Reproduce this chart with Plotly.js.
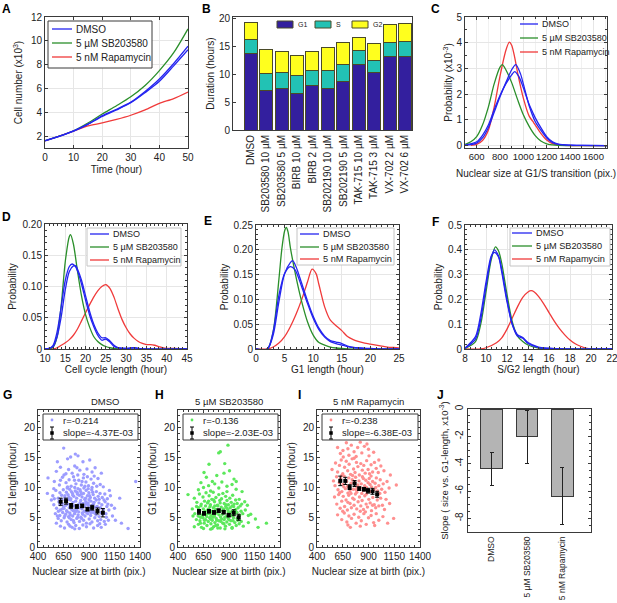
<!DOCTYPE html>
<html>
<head>
<meta charset="utf-8">
<script src="https://cdn.plot.ly/plotly-3.0.1.min.js"></script>
<style>
body { margin: 0; background: #fff; }
#chart { width: 617px; height: 603px; }
</style>
</head>
<body>
<div id="chart"></div>
<script>
var W = 617, H = 603
var font = "Liberation Sans, Arial, sans-serif"
var blue = "#2424f0", green = "#2a8f2a", red = "#f03a3a"
var treatNames = ["DMSO", "5 \u00b5M SB203580", "5 nM Rapamycin"]
var treatCols = [blue, green, red]

// A - cell number (x10^3) over time
var timeA = [0, 5, 10, 15, 20, 25, 30, 35, 40, 45, 50]
var growthDmso1 = [1.62, 2.0, 2.44, 3.0, 3.72, 4.25, 4.85, 5.75, 6.8, 8.1, 9.55]
var growthDmso2 = [1.6, 1.98, 2.42, 2.98, 3.65, 4.2, 4.8, 5.65, 6.6, 7.9, 9.25]
var growthSb = [1.62, 2.0, 2.45, 3.1, 3.85, 4.55, 5.3, 6.25, 7.5, 9.0, 11.0]
var growthRapa = [1.6, 2.0, 2.42, 2.85, 3.1, 3.4, 3.75, 4.2, 4.75, 5.15, 5.7]

// B - phase durations (hours)
var drugs = ["DMSO", "SB203580 10 \u00b5M", "SB203580 5 \u00b5M", "BIRB 10 \u00b5M", "BIRB 2 \u00b5M",
  "SB202190 10 \u00b5M", "SB202190 5 \u00b5M", "TAK-715 10 \u00b5M", "TAK-715 3 \u00b5M", "VX-702 2 \u00b5M", "VX-702 6 \u00b5M"]
var g1Dur = [13.7, 7.1, 7.5, 6.6, 8.0, 7.5, 8.7, 11.7, 10.3, 13.2, 13.1]
var sDur = [2.4, 3.0, 2.8, 3.1, 2.7, 3.1, 3.0, 2.5, 2.1, 2.5, 2.7]
var g2Dur = [3.1, 4.3, 3.7, 3.7, 3.3, 4.1, 3.9, 2.4, 3.0, 3.2, 3.3]
var phaseNames = ["G1", "S", "G2"]

// C - nuclear size at G1/S (probability x10^-3)
var cDmso1X = [500, 600, 650, 700, 750, 800, 850, 900, 935, 975, 1000, 1050, 1100, 1150, 1200, 1250, 1300, 1400, 1500, 1720]
var cDmso1Y = [0.01, 0.1, 0.3, 0.7, 1.3, 1.9, 2.45, 2.95, 3.15, 2.8, 2.4, 1.55, 0.95, 0.6, 0.3, 0.12, 0.05, 0.02, 0.01, 0]
var cDmso2X = [500, 600, 650, 700, 750, 800, 850, 900, 925, 960, 1000, 1050, 1080, 1100, 1150, 1200, 1250, 1300, 1400, 1500, 1720]
var cDmso2Y = [0.02, 0.15, 0.4, 0.8, 1.4, 1.95, 2.4, 2.75, 2.88, 2.7, 2.25, 1.6, 1.3, 1.1, 0.7, 0.35, 0.15, 0.06, 0.02, 0.01, 0]
var cSbX = [500, 550, 600, 650, 700, 750, 800, 820, 850, 900, 950, 1000, 1050, 1100, 1150, 1200, 1250, 1300, 1720]
var cSbY = [0.05, 0.15, 0.35, 0.8, 1.5, 2.4, 3.05, 3.15, 2.95, 2.45, 1.8, 1.2, 0.75, 0.4, 0.18, 0.07, 0.03, 0.01, 0]
var cRapaX = [550, 600, 650, 700, 750, 800, 850, 880, 900, 925, 950, 1000, 1050, 1080, 1100, 1150, 1200, 1250, 1300, 1350, 1720]
var cRapaY = [0.01, 0.05, 0.2, 0.6, 1.5, 2.7, 3.7, 4.02, 3.9, 3.45, 2.85, 1.85, 1.15, 0.95, 0.82, 0.48, 0.22, 0.08, 0.03, 0.01, 0]

// D - cell cycle length
var dDmso1X = [10, 11, 12, 13, 14, 15, 16, 16.7, 17.5, 18, 19, 20, 21, 22, 23, 24, 25, 26, 27, 28, 30, 32, 33, 35, 45]
var dDmso1Y = [0, 0.001, 0.006, 0.028, 0.068, 0.11, 0.132, 0.136, 0.132, 0.125, 0.104, 0.078, 0.054, 0.036, 0.022, 0.014, 0.016, 0.011, 0.004, 0.002, 0.001, 0.002, 0.001, 0, 0]
var dDmso2X = [10, 11, 12, 13, 14, 15, 16, 17, 17.6, 18, 19, 20, 21, 22, 23, 24, 25, 26, 27, 28, 30, 32, 34, 45]
var dDmso2Y = [0, 0.001, 0.004, 0.02, 0.052, 0.095, 0.124, 0.133, 0.133, 0.128, 0.11, 0.085, 0.06, 0.04, 0.026, 0.018, 0.018, 0.013, 0.006, 0.002, 0.001, 0.002, 0, 0]
var dSbX = [10, 11, 12, 13, 14, 15, 16, 16.3, 17, 18, 19, 20, 21, 22, 23, 24, 25, 26, 28, 45]
var dSbY = [0, 0, 0.003, 0.02, 0.07, 0.14, 0.18, 0.183, 0.168, 0.125, 0.085, 0.055, 0.035, 0.02, 0.012, 0.007, 0.004, 0.002, 0, 0]
var dRapaX = [10, 12, 13, 14, 15, 16, 17, 18, 19, 20, 21, 22, 23, 24, 25, 26, 27, 28, 29, 30, 31, 32, 33, 34, 35, 36, 37, 38, 39, 40, 42, 45]
var dRapaY = [0, 0, 0.002, 0.006, 0.01, 0.015, 0.022, 0.032, 0.045, 0.058, 0.071, 0.083, 0.093, 0.1, 0.103, 0.097, 0.083, 0.064, 0.047, 0.034, 0.024, 0.017, 0.012, 0.009, 0.007, 0.007, 0.006, 0.004, 0.002, 0.001, 0.001, 0]

// E - G1 length
var eDmso1X = [0, 2, 3, 4, 5, 6, 6.4, 7, 8, 9, 10, 11, 12, 13, 14, 15, 16, 17, 18, 20, 22, 25]
var eDmso1Y = [0, 0, 0.028, 0.095, 0.152, 0.174, 0.178, 0.166, 0.132, 0.097, 0.066, 0.042, 0.026, 0.017, 0.014, 0.011, 0.006, 0.003, 0.002, 0.001, 0, 0]
var eDmso2X = [0, 2, 3, 4, 5, 6, 6.8, 8, 9, 10, 11, 12, 13, 14, 15, 16, 18, 20, 25]
var eDmso2Y = [0, 0, 0.035, 0.108, 0.152, 0.166, 0.16, 0.125, 0.092, 0.062, 0.039, 0.024, 0.015, 0.011, 0.008, 0.005, 0.002, 0, 0]
var eSbX = [0, 2, 3, 4, 4.5, 5, 5.3, 5.6, 6, 7, 8, 9, 10, 11, 12, 13, 14, 16, 25]
var eSbY = [0, 0, 0.035, 0.14, 0.2, 0.238, 0.245, 0.236, 0.205, 0.145, 0.095, 0.055, 0.028, 0.013, 0.008, 0.004, 0.002, 0, 0]
var eRapaX = [0, 2, 3, 4, 5, 6, 7, 8, 9, 9.8, 10.5, 11, 12, 13, 14, 15, 16, 17, 18, 19, 20, 21, 22, 23, 24, 25]
var eRapaY = [0, 0, 0.004, 0.012, 0.025, 0.045, 0.07, 0.1, 0.135, 0.161, 0.152, 0.13, 0.085, 0.058, 0.047, 0.037, 0.025, 0.019, 0.015, 0.012, 0.01, 0.008, 0.006, 0.004, 0.003, 0.002]

// F - S/G2 length
var fDmsoX = [8, 9, 9.5, 10, 10.5, 10.8, 11.2, 11.5, 12, 12.5, 13, 13.5, 14, 15, 16, 17, 22]
var fDmso1Y = [0.003, 0.04, 0.12, 0.25, 0.37, 0.4, 0.375, 0.32, 0.2, 0.1, 0.052, 0.044, 0.022, 0.006, 0.002, 0, 0]
var fDmso2Y = [0.004, 0.05, 0.14, 0.27, 0.375, 0.39, 0.37, 0.31, 0.19, 0.1, 0.058, 0.046, 0.026, 0.008, 0.003, 0, 0]
var fSbX = [8, 9, 9.5, 10, 10.5, 10.9, 11.2, 11.5, 12, 12.5, 13, 13.5, 14, 15, 16, 17, 22]
var fSbY = [0.002, 0.03, 0.1, 0.23, 0.36, 0.412, 0.395, 0.345, 0.22, 0.11, 0.052, 0.03, 0.016, 0.004, 0.001, 0, 0]
var fRapaX = [8, 9.5, 10, 11, 11.5, 12, 12.5, 13, 13.5, 14, 14.3, 14.6, 15, 15.5, 16, 16.5, 17, 17.5, 18, 18.5, 19, 19.5, 20, 22]
var fRapaY = [0, 0, 0.005, 0.025, 0.045, 0.08, 0.125, 0.17, 0.208, 0.23, 0.235, 0.23, 0.212, 0.182, 0.147, 0.112, 0.082, 0.057, 0.036, 0.021, 0.011, 0.004, 0, 0]

// G/H/I - nuclear size at birth vs G1 length, [size, hours]
var dmsoPts = [[652,16.6],[766,15.6],[720,15.1],[792,15.3],[690,14.8],[590,14.3],[841,14.3],[907,14.6],
  [620,13.4],[700,13.0],[735,12.4],[760,13.6],[810,12.9],[850,12.2],[880,13.1],[930,12.6],[1021,12.4],[655,12.1],[580,12.7],[790,12.1],[960,13.3],
  [498,11.6],[560,11.0],[610,10.4],[640,11.7],[675,10.8],[705,11.3],[725,10.2],[748,11.8],[772,10.6],[800,11.2],[825,10.4],[845,11.6],[870,10.9],[895,10.3],[920,11.4],[945,10.7],[988,11.5],[1010,10.5],[1040,10.1],[1358,11.0],[690,10.1],[760,10.0],[860,10.2],[620,11.2],[930,10.0],
  [492,9.0],[545,8.6],[575,9.5],[598,8.2],[615,9.1],[632,8.7],[648,9.6],[662,8.3],[678,9.2],[694,8.8],[710,9.7],[722,8.1],[738,9.0],[751,8.5],[765,9.4],[779,8.2],[792,9.8],[805,8.7],[818,9.3],[832,8.4],[846,9.0],[858,8.0],[872,9.5],[885,8.6],[899,9.1],[913,8.3],[927,9.6],[941,8.8],[956,8.2],[972,9.3],[990,8.5],[1008,9.0],[1030,8.3],[1055,8.9],[1080,8.1],[1201,8.2],[1110,8.6],[560,8.1],[700,8.0],[850,9.9],
  [531,7.9],[555,7.1],[582,6.5],[605,7.6],[620,6.2],[638,7.3],[650,6.8],[666,7.8],[680,6.1],[693,7.2],[707,6.6],[719,7.9],[731,6.3],[744,7.5],[756,6.9],[769,7.7],[781,6.2],[794,7.1],[806,6.6],[819,7.8],[831,6.4],[843,7.3],[856,6.8],[868,7.6],[881,6.1],[894,7.0],[906,6.5],[919,7.7],[932,6.3],[945,7.2],[958,6.7],[971,7.9],[984,6.0],[998,7.4],[1012,6.6],[1026,7.1],[1040,6.3],[1058,7.6],[1075,6.8],[1095,6.2],[1120,7.0],[1150,6.5],[600,6.0],[760,6.0],[900,7.95],
  [580,4.0],[570,5.6],[598,4.8],[614,5.3],[628,4.4],[642,5.8],[656,4.9],[671,5.5],[685,4.2],[699,5.1],[712,5.7],[726,4.6],[740,5.2],[753,4.1],[767,5.9],[780,4.8],[793,5.4],[807,4.3],[820,5.0],[834,5.7],[847,4.5],[861,5.2],[874,4.0],[888,5.6],[902,4.7],[916,5.3],[929,4.2],[943,5.8],[957,4.9],[970,5.4],[985,4.4],[1000,5.1],[1015,4.6],[1032,5.5],[1050,4.3],[1070,5.0],[1090,4.5],[1159,4.5],[1218,4.0],[1130,5.2],
  [620,3.5],[660,3.2],[700,3.8],[735,3.3],[770,3.6],[805,3.1],[840,3.7],[875,3.4],[910,3.9],[945,3.2],[985,3.6],[1020,3.3],[1060,3.8],[1283,3.1],[760,3.05],
  [655,6.5],[672,7.0],[688,5.9],[703,8.4],[716,5.4],[729,7.0],[742,8.7],[758,5.6],[771,6.4],[786,8.9],[799,5.9],[812,7.4],[826,8.9],[839,5.5],[853,6.0],[866,8.2],[879,5.8],[892,7.4],[905,8.6],[918,5.8],[931,7.0],[944,6.0],[727,9.3],[812,9.6],[892,9.8],[686,9.9],[640,6.4],[662,5.2],[706,4.9],[748,4.4],[788,5.0],[826,4.8],[868,5.9],[910,6.0],[950,7.5],[980,6.8],[1000,8.0],[1020,5.8],[664,8.6],[744,6.1],[783,9.2],[874,7.2],[962,5.6],[630,8.0],[615,7.1],[936,9.2],[1047,7.9],[1066,5.6],[976,10.2],[832,11.0],[758,11.2],[674,12.3],[884,11.8],[951,11.9],[782,13.3],[1100,9.5],[1085,7.2],[555,9.8],[590,5.2],[1005,3.9],[715,3.5]]
var sbPts = [[890,17.1],[799,15.8],[815,16.0],[704,13.9],[858,14.0],[655,12.5],[851,12.4],[678,11.7],[949,11.4],[971,11.0],[737,11.0],[780,12.0],[905,12.8],[625,10.8],[700,10.3],[760,10.6],[830,10.9],[880,10.2],[930,10.5],[1028,9.3],[498,8.8],[600,9.6],[650,10.0],[800,9.9],[970,9.7],
  [560,8.2],[585,7.5],[610,8.9],[628,7.2],[645,8.4],[660,7.7],[675,9.1],[690,7.4],[705,8.6],[718,7.1],[732,8.0],[745,9.2],[758,7.6],[772,8.3],[786,7.0],[800,8.8],[813,7.4],[827,8.1],[840,9.0],[853,7.3],[867,8.5],[880,7.8],[894,7.1],[908,8.2],[922,7.5],[936,8.7],[950,7.2],[965,7.9],[980,7.3],[1000,8.0],[1054,7.6],[1080,7.0],[1025,7.2],[720,9.4],[880,9.3],
  [540,6.4],[565,5.6],[582,6.8],[598,5.2],[612,6.1],[624,6.9],[636,5.4],[648,6.4],[659,5.8],[670,6.9],[681,5.1],[692,6.2],[703,5.6],[714,6.8],[725,5.3],[736,6.0],[747,6.6],[758,5.2],[769,6.3],[780,5.7],[791,6.9],[802,5.4],[813,6.1],[824,6.7],[835,5.5],[846,6.4],[857,5.9],[868,6.8],[879,5.2],[890,6.2],[901,5.6],[912,6.6],[923,5.3],[934,6.0],[945,6.8],[956,5.5],[967,6.3],[978,5.8],[990,6.6],[1003,5.3],[1018,6.0],[1035,5.6],[1113,5.5],[1060,6.2],[1090,5.3],[547,5.2],[665,6.0],[742,5.0],[818,5.05],[895,5.9],
  [580,4.6],[600,3.8],[615,4.4],[630,3.3],[644,4.9],[657,4.0],[671,4.6],[684,3.6],[697,4.3],[710,4.9],[723,3.9],[736,4.5],[749,3.4],[762,4.1],[775,4.8],[788,3.7],[801,4.4],[814,3.2],[827,4.7],[840,4.0],[853,4.6],[866,3.5],[879,4.2],[892,4.8],[905,3.8],[918,4.4],[931,3.3],[944,4.9],[957,4.1],[971,3.6],[985,4.5],[1000,3.9],[1020,4.3],[1040,3.5],[1159,4.7],[1185,3.3],[1267,4.0],[1090,4.1],[560,3.4],[620,5.0],
  [650,3.1],[720,3.0],[790,3.2],[860,3.05],[930,3.15],
  [680,5.5],[700,6.4],[720,4.7],[740,5.8],[760,6.9],[780,4.5],[800,5.9],[820,4.3],[840,6.1],[860,5.0],[880,6.5],[900,4.6],[920,5.9],[940,4.4],[960,6.1],[980,4.8],[700,7.7],[750,7.9],[810,7.8],[870,7.1],[930,6.9],[640,5.0],[620,4.0],[660,4.5],[600,6.6],[1010,6.9],[1000,4.6],[770,3.6],[850,3.9],[735,3.1]]
var rapaPts = [[685,17.5],[733,17.1],[885,17.3],[795,16.7],[600,16.7],[627,15.7],[652,16.2],[710,15.4],[760,16.0],[835,15.8],[860,16.9],[905,15.3],[950,15.9],[700,16.5],[780,15.2],[900,16.4],[655,15.1],[820,17.6],
  [546,13.0],[580,14.1],[600,12.6],[618,13.7],[635,14.6],[650,12.3],[668,13.4],[684,14.4],[698,12.8],[712,13.9],[726,12.2],[741,14.8],[755,13.1],[769,12.5],[783,14.2],[797,13.5],[811,12.1],[825,14.0],[840,12.9],[854,13.7],[868,12.4],[882,14.5],[896,13.0],[910,12.3],[925,13.8],[940,12.6],[958,14.2],[975,13.2],[995,12.5],[1020,13.6],[1112,12.1],[1050,12.8],[1000,14.6],[760,14.9],[640,12.0],
  [560,11.1],[575,10.3],[590,11.8],[604,9.6],[617,10.8],[629,11.5],[641,9.3],[653,10.5],[664,11.9],[676,9.8],[687,11.0],[698,10.2],[709,11.6],[720,9.4],[731,10.7],[742,11.3],[753,9.7],[764,10.9],[775,11.7],[786,9.2],[797,10.4],[808,11.1],[819,9.9],[830,10.6],[841,11.8],[852,9.5],[863,10.3],[874,11.2],[885,9.8],[896,10.8],[907,11.5],[918,9.3],[929,10.1],[940,11.0],[952,9.6],[964,10.7],[976,11.6],[988,9.4],[1000,10.3],[1014,11.3],[1028,9.7],[1043,10.6],[1060,9.2],[1080,11.0],[1170,10.4],[1100,9.9],[660,10.1],[700,9.05],[745,12.0],[790,10.0],[835,9.0],[880,10.0],[925,11.9],[970,10.0],[620,9.1],[1010,9.0],[710,10.0],[850,11.5],[780,9.6],[915,10.5],
  [570,8.4],[592,7.2],[610,8.8],[625,6.5],[640,7.7],[655,8.5],[668,6.8],[682,7.9],[695,6.2],[708,8.7],[721,7.3],[734,6.6],[747,8.2],[760,7.0],[773,8.9],[786,6.4],[799,7.6],[812,8.4],[825,6.9],[838,7.8],[851,6.3],[864,8.6],[877,7.2],[890,6.7],[903,8.0],[916,7.4],[929,6.1],[942,8.3],[956,7.1],[970,6.6],[985,7.9],[1000,6.9],[1018,8.2],[1035,7.0],[1105,7.3],[1055,6.3],[1070,8.0],[700,7.5],[760,8.0],[820,6.0],[880,8.9],[940,7.0],[650,6.0],[990,8.8],[730,9.0],
  [600,5.4],[640,4.6],[665,5.7],[690,4.2],[710,5.2],[724,3.3],[735,4.8],[760,5.5],[780,4.0],[805,5.0],[830,4.4],[855,5.6],[878,3.8],[900,4.9],[925,5.3],[950,4.1],[975,5.6],[1000,4.5],[1144,4.8],[1086,4.0],[1040,5.1],[700,3.7],[820,3.5],[960,3.6],[870,5.9]]

// binned means +- error
var dmsoBins = [622, 675, 725, 781, 833, 885, 931, 983, 1036]
var dmsoMean = [7.6, 7.7, 6.9, 6.8, 6.9, 6.35, 6.6, 6.05, 5.75]
var dmsoErr = [0.6, 0.5, 0.4, 0.3, 0.3, 0.3, 0.4, 0.5, 0.7]
var sbBins = [606, 655, 704, 753, 799, 848, 897, 946, 995]
var sbMean = [5.9, 5.65, 6.0, 5.8, 6.1, 5.85, 5.35, 5.75, 5.0]
var sbErr = [0.4, 0.3, 0.3, 0.3, 0.3, 0.3, 0.3, 0.5, 0.5]
var rapaBins = [626, 675, 717, 765, 810, 856, 895, 939, 984]
var rapaMean = [11.1, 11.1, 10.05, 10.65, 9.8, 9.7, 9.45, 9.35, 8.85]
var rapaErr = [0.8, 0.6, 0.4, 0.5, 0.3, 0.3, 0.4, 0.5, 0.5]
var corrText = ["r=-0.214", "r=-0.136", "r=-0.238"]
var slopeText = ["slope=-4.37E-03", "slope=-2.03E-03", "slope=-6.38E-03"]

// J - slope (x10^-3)
var slopeVal = [-4.37, -2.03, -6.38]
var slopeErr = [1.2, 1.95, 2.1]

// ---- helpers ----
var dx = function (a, b) { return [a / W, b / W] }
var dy = function (a, b) { return [1 - b / H, 1 - a / H] }
var pX = function (x) { return x / W }
var pY = function (y) { return 1 - y / H }
var axId = function (n, c) { return n == 1 ? c : c + n }

var curve = function (n, x, y, name, color) {
  return {
    type: "scatter", mode: "lines", x: x, y: y, name: name,
    line: {color: color, width: 1.3, shape: "spline", smoothing: 0.8},
    xaxis: axId(n, "x"), yaxis: axId(n, "y"), hoverinfo: "skip"
  }
}

var frame = function (dom, anchor, extra) {
  var a = {
    domain: dom, anchor: anchor, showline: true, mirror: "ticks", linecolor: "#3a3a3a", linewidth: 1,
    ticks: "inside", ticklen: 3, tickcolor: "#3a3a3a",
    tickfont: {size: 10, family: font, color: "#222"},
    zeroline: false, showgrid: false, gridcolor: "#e6e6e6", fixedrange: true
  }
  return Object.assign(a, extra)
}
var ttl = function (text, standoff, size) {
  return {text: text, standoff: standoff, font: {size: size || 10, family: font, color: "#222"}}
}

var data = []

// A
data.push(curve(1, timeA, growthRapa, treatNames[2], red))
data.push(curve(1, timeA, growthSb, treatNames[1], green))
data.push(curve(1, timeA, growthDmso1, treatNames[0], blue))
data.push(curve(1, timeA, growthDmso2, treatNames[0], blue))

// B
var phaseCols = ["#331f9e", "#22c2b4", "#ffff1e"]
var phaseData = [g1Dur, sDur, g2Dur]
for (var p = 0; p < 3; p++) {
  data.push({
    type: "bar", x: drugs, y: phaseData[p], name: phaseNames[p], width: 0.84,
    marker: {color: phaseCols[p], line: {color: "#4a4a28", width: 1}},
    xaxis: "x2", yaxis: "y2", hoverinfo: "skip"
  })
}

// C-F density curves
var densSets = [
  [3, [cDmso1X, cDmso1Y], [cDmso2X, cDmso2Y], [cSbX, cSbY], [cRapaX, cRapaY]],
  [4, [dDmso1X, dDmso1Y], [dDmso2X, dDmso2Y], [dSbX, dSbY], [dRapaX, dRapaY]],
  [5, [eDmso1X, eDmso1Y], [eDmso2X, eDmso2Y], [eSbX, eSbY], [eRapaX, eRapaY]],
  [6, [fDmsoX, fDmso1Y], [fDmsoX, fDmso2Y], [fSbX, fSbY], [fRapaX, fRapaY]]
]
densSets.forEach(function (s) {
  var n = s[0]
  data.push(curve(n, s[4][0], s[4][1], treatNames[2], red))
  data.push(curve(n, s[3][0], s[3][1], treatNames[1], green))
  data.push(curve(n, s[1][0], s[1][1], treatNames[0], blue))
  data.push(curve(n, s[2][0], s[2][1], treatNames[0], blue))
})

// G/H/I scatter
var scatSets = [
  [7, dmsoPts, "#9c9cff", dmsoBins, dmsoMean, dmsoErr],
  [8, sbPts, "#5ce85c", sbBins, sbMean, sbErr],
  [9, rapaPts, "#ff9090", rapaBins, rapaMean, rapaErr]
]
scatSets.forEach(function (s, i) {
  var n = s[0]
  data.push({
    type: "scatter", mode: "markers", name: corrText[i],
    x: s[1].map(function (p) { return p[0] }), y: s[1].map(function (p) { return p[1] }),
    marker: {color: s[2], size: 3.4, line: {width: 0}},
    xaxis: "x" + n, yaxis: "y" + n, hoverinfo: "skip"
  })
  data.push({
    type: "scatter", mode: "markers", name: slopeText[i], x: s[3], y: s[4],
    error_y: {type: "data", array: s[5], color: "#000", thickness: 1, width: 2},
    marker: {color: "#000", size: 4, symbol: "square"},
    xaxis: "x" + n, yaxis: "y" + n, hoverinfo: "skip"
  })
})

// J
data.push({
  type: "bar", x: treatNames, y: slopeVal, width: 0.62, name: "slope",
  marker: {color: "#b4b4b4", line: {color: "#3a3a3a", width: 1}},
  error_y: {type: "data", array: slopeErr, color: "#222", thickness: 1, width: 2},
  xaxis: "x10", yaxis: "y10", hoverinfo: "skip"
})

var minorIn = function (d) { return {ticks: "inside", ticklen: 2, tickcolor: "#3a3a3a", dtick: d} }

var layout = {
  width: W, height: H, margin: {l: 0, r: 0, t: 0, b: 0}, showlegend: false,
  paper_bgcolor: "#fff", plot_bgcolor: "#fff", barmode: "stack",
  font: {family: font, size: 10, color: "#222"},
  // A
  xaxis: frame(dx(45, 188), "y", {range: [0, 50], dtick: 10, showgrid: true, title: ttl("Time (hour)", 3)}),
  yaxis: frame(dy(17, 148), "x", {range: [1, 12], tickvals: [2, 4, 6, 8, 10, 12], showgrid: true,
    title: ttl("Cell number (x10<sup>3</sup>)", 6)}),
  // B
  xaxis2: frame(dx(233, 412), "y2", {type: "category", range: [-1.15, 10.45], ticks: "", tickangle: -90,
    mirror: true}),
  yaxis2: frame(dy(17, 130), "x2", {range: [0, 20.2], tickvals: [0, 5, 10, 15, 20], mirror: true,
    title: ttl("Duration (hours)", 2)}),
  // C
  xaxis3: frame(dx(465, 607), "y3", {range: [500, 1717], tickvals: [600, 800, 1000, 1200, 1400, 1600], showgrid: true,
    tickangle: 0, tickfont: {size: 9.5, family: font, color: "#222"},
    minor: {showgrid: true, gridcolor: "#f1f1f1", dtick: 100, ticks: "inside", ticklen: 2}, title: ttl("Nuclear size at G1/S transition (pix.)", 8)}),
  yaxis3: frame(dy(17, 148), "x3", {range: [-0.09, 5], dtick: 1, showgrid: true, minor: minorIn(0.5),
    title: ttl("Probability (x10<sup>-3</sup>)", 1)}),
  // D
  xaxis4: frame(dx(45, 187), "y4", {range: [10, 45], dtick: 5, showgrid: true, minor: minorIn(1),
    title: ttl("Cell cycle length (hour)", 2)}),
  yaxis4: frame(dy(224, 349), "x4", {range: [0, 0.2], tickvals: [0, 0.05, 0.1, 0.15, 0.2],
    ticktext: ["0", "0.05", "0.10", "0.15", "0.20"], showgrid: true, minor: minorIn(0.01), title: ttl("Probability", 4)}),
  // E
  xaxis5: frame(dx(256, 399), "y5", {range: [0, 25], dtick: 5, showgrid: true, minor: minorIn(1),
    title: ttl("G1 length (hour)", 2)}),
  yaxis5: frame(dy(225, 349), "x5", {range: [0, 0.25], tickvals: [0, 0.05, 0.1, 0.15, 0.2, 0.25],
    ticktext: ["0", "0.05", "0.10", "0.15", "0.20", "0.25"], showgrid: true, minor: minorIn(0.01), title: ttl("Probability", 3)}),
  // F
  xaxis6: frame(dx(465, 612), "y6", {range: [8, 22], tickvals: [8, 10, 12, 14, 16, 18, 20, 22], ticklabeloverflow: "allow",
    showgrid: true, minor: minorIn(0.5), title: ttl("S/G2 length (hour)", 2)}),
  yaxis6: frame(dy(225, 349), "x6", {range: [0, 0.5], tickvals: [0, 0.1, 0.2, 0.3, 0.4, 0.5],
    ticktext: ["0", "0.1", "0.2", "0.3", "0.4", "0.5"], showgrid: true, minor: minorIn(0.02), title: ttl("Probability", 3)}),
  // J
  xaxis10: frame(dx(468, 591), "y10", {type: "category", range: [-0.67, 2.81], ticks: "", tickangle: -90, mirror: true,
    tickfont: {size: 8.5, family: font, color: "#222"}}),
  yaxis10: frame(dy(409, 532), "x10", {range: [-9, 0], tickvals: [-8, -6, -4, -2, 0],
    ticktext: ["-8", "-6", "-4", "-2", "0"], minor: minorIn(0.5), tickangle: -90,
    title: ttl("Slope ( size vs. G1-length, x10<sup>-3</sup>)", 3, 9.5)}),
  shapes: [],
  annotations: []
}

// G/H/I axes and panel titles
var scatBoxes = [[7, 38, 140], [8, 178, 280], [9, 317, 420]]
scatBoxes.forEach(function (b, i) {
  var n = b[0]
  layout["xaxis" + n] = frame(dx(b[1], b[2]), "y" + n, {range: [400, 1400], tickvals: [400, 650, 900, 1150, 1400],
    minor: minorIn(50), title: ttl("Nuclear size at birth (pix.)", 6)})
  layout["yaxis" + n] = frame(dy(410, 547), "x" + n, {range: [0, 23], tickvals: [0, 5, 10, 15, 20],
    minor: minorIn(1), title: ttl("G1 length (hour)", 5)})
  layout.annotations.push({text: treatNames[i], x: (b[1] + b[2]) / 2 / W, y: pY(401), xref: "paper", yref: "paper",
    showarrow: false, font: {size: 9.5, family: font, color: "#222"}})
})

// ---- legends (drawn as paper-space keys) ----
var shp = function (o) { layout.shapes.push(Object.assign({xref: "paper", yref: "paper", layer: "above"}, o)) }
var rectPx = function (x0, y0, x1, y1, fill, line, lw) {
  shp({type: "rect", x0: pX(x0), x1: pX(x1), y0: pY(y1), y1: pY(y0), fillcolor: fill, line: {color: line, width: lw}})
}
var linePx = function (x0, y0, x1, y1, color, lw) {
  shp({type: "line", x0: pX(x0), x1: pX(x1), y0: pY(y0), y1: pY(y1), line: {color: color, width: lw}})
}
var textPx = function (x, y, text, size) {
  layout.annotations.push({text: text, x: pX(x), y: pY(y), xref: "paper", yref: "paper", xanchor: "left", yanchor: "middle",
    showarrow: false, font: {size: size, family: font, color: "#222"}})
}

var lineKeys = [
  {box: [48, 21, 152, 68], border: "#3a3a3a", x0: 52, x1: 72, tx: 74, ys: [29, 43, 57], size: 10},
  {box: null, x0: 520, x1: 538, tx: 540, ys: [24, 38, 52], size: 9},
  {box: [87, 228, 181, 266], border: "#c4c4c4", x0: 90, x1: 109, tx: 111, ys: [234, 247, 260], size: 9},
  {box: [297, 228, 394, 265], border: "#c4c4c4", x0: 300, x1: 319, tx: 321, ys: [234, 247, 259], size: 9.2},
  {box: [510, 228, 610, 266], border: "#c4c4c4", x0: 512, x1: 532, tx: 534, ys: [233, 246, 259], size: 9.2}
]
lineKeys.forEach(function (k) {
  if (k.box) rectPx(k.box[0], k.box[1], k.box[2], k.box[3], "#fff", k.border, 1)
  for (var i = 0; i < 3; i++) {
    linePx(k.x0, k.ys[i], k.x1, k.ys[i], treatCols[i], 1.3)
    textPx(k.tx, k.ys[i], treatNames[i], k.size)
  }
})

// B key
var bKeyX = [277, 315, 352]
for (var i = 0; i < 3; i++) {
  rectPx(bKeyX[i], 21, bKeyX[i] + 16, 28, phaseCols[i], "#4a4a28", 1)
  textPx(bKeyX[i] + 19, 24.5, phaseNames[i], 7)
}

// G/H/I keys
scatBoxes.forEach(function (b, i) {
  var L = b[1], R = b[2]
  rectPx(L + 5, 414, R - 2, 440, "#fff", "#3a3a3a", 1)
  shp({type: "circle", x0: pX(L + 12.6), x1: pX(L + 15.4), y0: pY(421.4), y1: pY(418.6),
    fillcolor: scatSets[i][2], line: {width: 0}})
  linePx(L + 14, 427, L + 14, 439, "#000", 1)
  linePx(L + 12, 427, L + 16, 427, "#000", 1)
  linePx(L + 12, 439, L + 16, 439, "#000", 1)
  rectPx(L + 12.5, 431.5, L + 15.5, 434.5, "#000", "#000", 0.5)
  textPx(L + 23, 420, corrText[i], 9.5)
  textPx(L + 23, 433, slopeText[i], 9.5)
})

// panel letters
var letters = [["A", 0, 0], ["B", 200, 0], ["C", 429, 0], ["D", 0, 208], ["E", 202, 212], ["F", 430, 213],
  ["G", 1, 386], ["H", 153, 386], ["I", 296, 386], ["J", 435, 386]]
letters.forEach(function (l) {
  layout.annotations.push({text: "<b>" + l[0] + "</b>", x: pX(l[1]), y: pY(l[2]), xref: "paper", yref: "paper",
    xanchor: "left", yanchor: "top", showarrow: false, font: {size: 12, family: font, color: "#000"}})
})

Plotly.newPlot("chart", data, layout, {staticPlot: true, displayModeBar: false})
</script>
</body>
</html>
